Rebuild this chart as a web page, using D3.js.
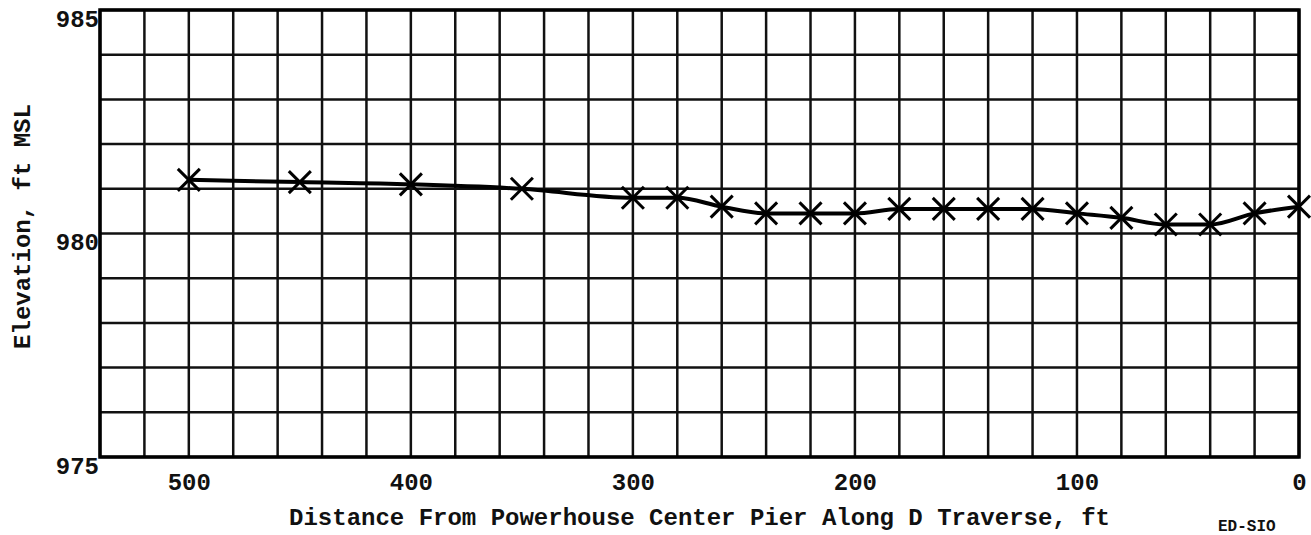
<!DOCTYPE html>
<html>
<head>
<meta charset="utf-8">
<script src="https://cdn.jsdelivr.net/npm/d3@7"></script>
<style>
  body { margin: 0; background: #fff; }
  text { font-family: "Liberation Mono", "DejaVu Sans Mono", monospace; font-weight: bold; }
</style>
</head>
<body>
<div id="chart"></div>
<script>
// distance along D traverse (ft) and elevation readings (ft MSL)
var distance = [500, 450, 400, 350, 300, 280, 260, 240, 220, 200, 180, 160, 140, 120, 100, 80, 60, 40, 20, 0];
var elevation = [981.2, 981.15, 981.1, 981.0, 980.8, 980.8, 980.6, 980.45, 980.45, 980.45, 980.55, 980.55, 980.55, 980.55, 980.45, 980.35, 980.2, 980.2, 980.45, 980.6];

var xTicks = [500, 400, 300, 200, 100, 0];
var yTicks = [975, 980, 985];
var xGrid = d3.range(0, 541, 20);
var yGrid = d3.range(975, 986, 1);

var xTitle = "Distance From Powerhouse Center Pier Along D Traverse, ft";
var yTitle = "Elevation, ft MSL";

var W = 1311, H = 535;
var margin = {top: 10, right: 12, bottom: 78, left: 100};
var width = W - margin.left - margin.right,
    height = H - margin.top - margin.bottom;

var svg = d3.select("#chart").append("svg")
    .attr("width", W).attr("height", H)
  .append("g")
    .attr("transform", "translate(" + margin.left + "," + margin.top + ")");

var x = d3.scaleLinear().domain([540, 0]).range([0, width]);
var y = d3.scaleLinear().domain([975, 985]).range([height, 0]);

// grid
svg.append("g")
    .selectAll("line").data(xGrid).enter().append("line")
    .attr("x1", function(d){ return x(d); }).attr("x2", function(d){ return x(d); })
    .attr("y1", 0).attr("y2", height)
    .attr("stroke", "#111").attr("stroke-width", 2.5);

svg.append("g")
    .selectAll("line").data(yGrid).enter().append("line")
    .attr("x1", 0).attr("x2", width)
    .attr("y1", function(d){ return y(d); }).attr("y2", function(d){ return y(d); })
    .attr("stroke", "#111").attr("stroke-width", 2.5);

// frame
svg.append("rect")
    .attr("x", 0).attr("y", 0).attr("width", width).attr("height", height)
    .attr("fill", "none").attr("stroke", "#000").attr("stroke-width", 3.5);

// axes (labels only)
var xAxis = svg.append("g")
    .attr("transform", "translate(0," + height + ")")
    .call(d3.axisBottom(x).tickValues(xTicks).tickSize(0).tickPadding(16).tickFormat(d3.format("d")));
xAxis.select(".domain").remove();
xAxis.selectAll("text")
    .style("font-size", "24px")
    .attr("fill", "#111");

var yAxis = svg.append("g")
    .call(d3.axisLeft(y).tickValues(yTicks).tickSize(0).tickPadding(1).tickFormat(d3.format("d")));
yAxis.select(".domain").remove();
yAxis.selectAll("text")
    .style("font-size", "24px")
    .attr("dy", "0.68em")
    .attr("fill", "#111");

// axis titles
svg.append("text")
    .attr("x", width / 2).attr("y", height + 68)
    .attr("text-anchor", "middle")
    .style("font-size", "24px")
    .attr("fill", "#111")
    .text(xTitle);

svg.append("text")
    .attr("transform", "translate(" + (-margin.left + 30) + "," + (y(980) - 7) + ") rotate(-90)")
    .attr("text-anchor", "middle")
    .style("font-size", "24px")
    .attr("fill", "#111")
    .text(yTitle);

// data line
var pts = distance.map(function(d, i){ return {d: d, e: elevation[i]}; });

var line = d3.line()
    .x(function(p){ return x(p.d); })
    .y(function(p){ return y(p.e); })
    .curve(d3.curveMonotoneX);

svg.append("path")
    .datum(pts)
    .attr("d", line)
    .attr("fill", "none")
    .attr("stroke", "#000")
    .attr("stroke-width", 4)
    .attr("stroke-linejoin", "round");

// X markers
var s = 11;
var marks = svg.selectAll("g.mark").data(pts).enter().append("g")
    .attr("class", "mark")
    .attr("transform", function(p){ return "translate(" + x(p.d) + "," + y(p.e) + ")"; });
marks.append("line").attr("x1", -s).attr("y1", -s).attr("x2", s).attr("y2", s);
marks.append("line").attr("x1", -s).attr("y1", s).attr("x2", s).attr("y2", -s);
marks.selectAll("line").attr("stroke", "#000").attr("stroke-width", 3);

// figure tag in the bottom-right corner
svg.append("text")
    .attr("x", 1118).attr("y", height + 74)
    .style("font-size", "16px")
    .attr("fill", "#111")
    .text("ED-SIO");
</script>
</body>
</html>
